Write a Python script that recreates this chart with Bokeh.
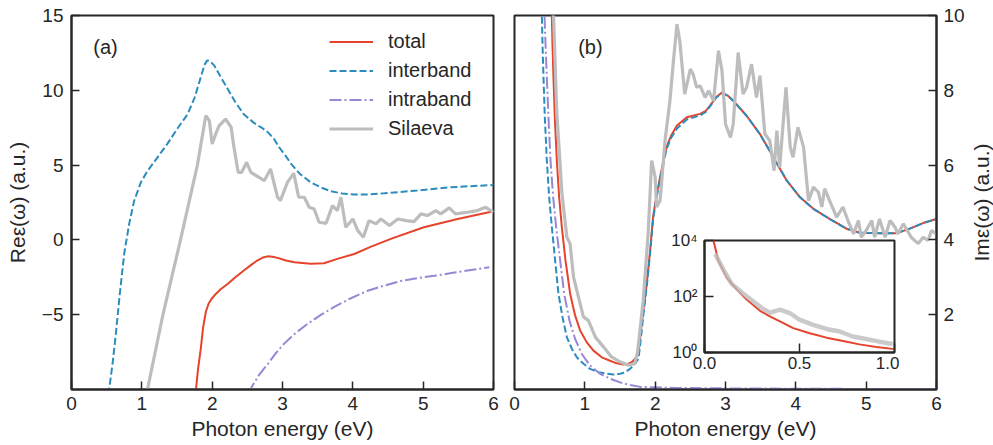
import math
from bokeh.plotting import figure
from bokeh.models import (Range1d, FixedTicker, Legend, LegendItem, Label,
                          PrintfTickFormatter)
from bokeh.embed import file_html
from bokeh.resources import INLINE

FONT = "Liberation Sans"
INK = "#262626"
RED = "#e5432b"
BLUE = "#2b8cbe"
PURPLE = "#9787d6"
GRAY = "#bdbdbd"

# ---------------- panel (a): Re eps ----------------
inter_a_x = [0.52, 0.535, 0.583, 0.63, 0.687, 0.75, 0.82, 0.89, 0.986, 1.08, 1.223, 1.36, 1.5, 1.65,
             1.75, 1.84, 1.89, 1.93, 1.97, 2.03, 2.12, 2.22, 2.33, 2.45, 2.6, 2.72, 2.79, 2.88,
             2.95, 3.04, 3.12, 3.25, 3.40, 3.55, 3.69, 3.85, 4.02, 4.2, 4.45, 4.92, 5.39, 6.0]
inter_a_y = [-11.0, -10.0, -8.3, -6.3, -3.6, -0.9, 1.07, 2.6, 3.85, 4.6, 5.52, 6.4, 7.4, 8.4,
             9.5, 10.9, 11.7, 12.0, 11.95, 11.65, 10.9, 10.1, 9.2, 8.4, 7.8, 7.45, 7.2, 6.75,
             6.2, 5.65, 5.1, 4.4, 3.85, 3.5, 3.25, 3.1, 3.03, 3.04, 3.12, 3.30, 3.52, 3.67]

total_a_x = [1.76, 1.77, 1.80, 1.84, 1.87, 1.91, 1.95, 1.99, 2.03, 2.12, 2.22, 2.33, 2.45, 2.56,
             2.64, 2.72, 2.79, 2.86, 2.93, 3.05, 3.17, 3.40, 3.59, 3.78, 4.02, 4.26, 4.54, 5.01,
             5.49, 6.0]
total_a_y = [-10.5, -10.0, -8.6, -7.2, -5.9, -4.8, -4.25, -3.95, -3.72, -3.3, -2.95, -2.5, -2.05,
             -1.65, -1.38, -1.18, -1.1, -1.12, -1.2, -1.38, -1.5, -1.6, -1.56, -1.27, -0.94,
             -0.45, 0.07, 0.85, 1.4, 1.92]

intra_a_x = [2.53, 2.56, 2.67, 2.79, 2.9, 3.02, 3.18, 3.36, 3.55, 3.73, 3.95, 4.21, 4.45, 4.68,
             4.92, 5.16, 5.4, 5.63, 5.94]
intra_a_y = [-10.3, -9.85, -9.0, -8.3, -7.6, -6.95, -6.25, -5.6, -5.0, -4.5, -3.95, -3.4, -3.05,
             -2.75, -2.55, -2.4, -2.22, -2.05, -1.83]

sil_a_x = [1.06, 1.08, 1.30, 1.55, 1.79, 1.91, 1.96, 2.00, 2.05, 2.10, 2.19, 2.27, 2.31, 2.37, 2.42,
           2.49, 2.55, 2.74, 2.83, 2.93, 2.97, 3.07, 3.16, 3.23, 3.31, 3.38, 3.45, 3.52, 3.62, 3.71,
           3.78, 3.83, 3.90, 4.00, 4.07, 4.15, 4.23, 4.33, 4.40, 4.52, 4.64, 4.76, 4.87, 4.97, 5.06,
           5.18, 5.25, 5.37, 5.46, 5.63, 5.77, 5.89, 6.00]
sil_a_y = [-10.5, -10.0, -5.0, 0.0, 5.0, 8.31, 7.97, 6.41, 7.08, 7.64, 8.08, 7.53, 6.19, 4.52, 4.52,
           5.19, 4.52, 3.96, 4.74, 2.85, 2.63, 3.85, 4.45, 2.85, 2.85, 2.18, 2.07, 1.18, 1.11, 2.29,
           1.96, 2.85, 0.85, 1.40, 0.62, 0.18, 1.29, 1.07, 1.40, 0.96, 1.40, 1.29, 1.22, 1.74, 1.63,
           1.96, 1.74, 2.14, 1.74, 1.85, 1.96, 2.18, 1.85]

# ---------------- panel (b): Im eps ----------------
total_b_x = [0.525, 0.531, 0.540, 0.554, 0.573, 0.602, 0.635, 0.673, 0.725, 0.791, 0.862, 0.933,
             1.028, 1.123, 1.241, 1.359, 1.454, 1.549, 1.62, 1.667, 1.715, 1.762, 1.79, 1.83,
             1.88, 1.93, 1.97, 2.02, 2.07, 2.16, 2.23, 2.31, 2.45, 2.64, 2.72, 2.78, 2.87, 2.95,
             3.03, 3.11, 3.30, 3.49, 3.68, 3.87, 4.06, 4.25, 4.48, 4.72, 4.91, 5.19, 5.43, 5.62,
             5.81, 6.0]
total_b_y = [10.5, 9.99, 9.24, 8.34, 7.28, 6.12, 5.14, 4.34, 3.45, 2.56, 1.98, 1.58,
             1.26, 1.04, 0.86, 0.77, 0.70, 0.67, 0.69, 0.73, 0.82, 0.95, 1.45, 2.1,
             2.83, 3.75, 4.61, 5.2, 5.68, 6.48, 6.8, 7.06, 7.28, 7.37, 7.45, 7.59, 7.82, 7.94,
             7.86, 7.72, 7.32, 6.83, 6.21, 5.59, 5.14, 4.83, 4.56, 4.30, 4.19, 4.18, 4.18, 4.30,
             4.45, 4.56]

inter_b_x = [0.384, 0.389, 0.398, 0.412, 0.431, 0.46, 0.493, 0.531, 0.578, 0.625, 0.682, 0.744,
             0.815, 0.886, 0.981, 1.075, 1.194, 1.312, 1.407, 1.501, 1.572, 1.643, 1.714, 1.762,
             1.79, 1.83, 1.88, 1.93, 1.97, 2.02, 2.07, 2.16, 2.23, 2.31, 2.45, 2.64, 2.72, 2.78,
             2.87, 2.95, 3.03, 3.11, 3.30, 3.49, 3.68, 3.87, 4.06, 4.25, 4.48, 4.72, 4.91, 5.19,
             5.43, 5.62, 5.81, 6.0]
inter_b_y = [10.5, 9.99, 9.24, 8.34, 7.28, 6.12, 5.14, 4.34, 3.45, 2.56, 1.94, 1.40,
             1.09, 0.86, 0.69, 0.55, 0.46, 0.42, 0.40, 0.42, 0.46, 0.55, 0.69, 0.82,
             1.25, 1.95, 2.75, 3.68, 4.55, 5.13, 5.62, 6.42, 6.74, 6.98, 7.22, 7.33, 7.42, 7.57,
             7.81, 7.93, 7.86, 7.72, 7.32, 6.83, 6.21, 5.59, 5.14, 4.83, 4.56, 4.30, 4.19, 4.18,
             4.18, 4.30, 4.45, 4.56]

intra_b_x = [0.423, 0.427, 0.441, 0.46, 0.483, 0.512, 0.55, 0.592, 0.649, 0.706, 0.782, 0.862,
             0.957, 1.075, 1.217, 1.359, 1.501, 1.643, 1.79, 2.3, 3.0, 4.0, 5.0, 6.0]
intra_b_y = [10.5, 9.99, 9.24, 8.34, 7.28, 6.12, 5.14, 4.34, 3.45, 2.56, 1.84, 1.35,
             0.95, 0.64, 0.42, 0.29, 0.19, 0.12, 0.07, 0.04, 0.03, 0.02, 0.015, 0.01]

sil_b_x = [0.55, 0.555, 0.60, 0.675, 0.745, 0.79, 0.84, 0.91, 0.98, 1.05, 1.15, 1.265, 1.38, 1.50,
           1.62, 1.71, 1.75, 1.83, 1.90, 1.95, 2.00, 2.02, 2.07, 2.14, 2.21, 2.26, 2.31, 2.35, 2.42,
           2.50, 2.54, 2.59, 2.64, 2.71, 2.76, 2.83, 2.90, 2.95, 3.00, 3.07, 3.11, 3.18, 3.25, 3.30,
           3.37, 3.44, 3.49, 3.56, 3.63, 3.69, 3.73, 3.77, 3.86, 3.92, 3.96, 4.03, 4.11, 4.18, 4.25,
           4.32, 4.37, 4.41, 4.48, 4.58, 4.67, 4.74, 4.82, 4.89, 4.93, 5.00, 5.08, 5.12, 5.19, 5.27,
           5.34, 5.41, 5.45, 5.53, 5.64, 5.74, 5.81, 5.88, 5.93, 6.00]
sil_b_y = [10.5, 10.0, 7.45, 5.23, 4.07, 3.90, 3.00, 2.47, 1.94, 1.85, 1.40, 1.14, 0.87, 0.74,
           0.65, 0.69, 1.0, 2.38, 4.16, 6.12, 5.68, 4.88, 5.05, 6.65, 7.72, 8.79, 9.77, 9.32, 7.90,
           8.57, 8.43, 8.08, 8.12, 7.81, 7.99, 7.72, 9.06, 8.52, 7.10, 6.74, 7.10, 9.01, 7.90, 8.08,
           8.70, 7.81, 8.39, 6.83, 6.65, 5.85, 6.92, 5.94, 8.08, 6.48, 6.21, 7.01, 6.48, 5.05, 5.41,
           5.28, 4.88, 5.37, 5.05, 4.61, 4.88, 4.52, 4.16, 4.52, 4.07, 4.25, 4.52, 4.07, 4.56, 4.07,
           4.52, 4.34, 4.16, 4.43, 4.07, 3.90, 4.07, 3.99, 4.25, 4.16]

# ---------------- inset (log scale) ----------------
inset_total_x = [0.04, 0.047, 0.073, 0.117, 0.170, 0.222, 0.292, 0.344, 0.397, 0.467, 0.554, 0.642,
                 0.729, 0.816, 0.904, 1.0]
inset_total_y = [15000, 10000, 1905, 468, 178, 77.6, 30.9, 19.5, 12.9, 7.41, 4.90, 3.39,
                 2.57, 1.95, 1.58, 1.32]
inset_sil_x = [0.056, 0.10, 0.143, 0.205, 0.257, 0.309, 0.344, 0.397, 0.449, 0.50, 0.572, 0.642,
               0.712, 0.78, 0.85, 0.92, 0.99]
inset_sil_y = [3311, 891, 282, 126, 66, 35.5, 26.3, 33.9, 25.7, 14.8, 9.77, 6.92,
               5.62, 3.72, 3.02, 2.45, 2.0]

x_ticks = [0, 1, 2, 3, 4, 5, 6]
ya_ticks = [-5, 0, 5, 10, 15]
yb_ticks = [2, 4, 6, 8, 10]
inset_x_ticks = [0, 0.5, 1.0]
inset_y_ticks = [1, 100, 10000]
inset_y_labels = {1: "10⁰", 100: "10²", 10000: "10⁴"}


def style(p, tick=19, lab=21, tick_len=8):
    for ax in p.axis:
        ax.axis_line_width = 2
        ax.axis_line_color = INK
        ax.major_tick_in = tick_len
        ax.major_tick_out = 0
        ax.major_tick_line_width = 1.5
        ax.major_tick_line_color = INK
        ax.minor_tick_line_color = None
        ax.major_label_text_font = FONT
        ax.major_label_text_font_size = f"{tick}px"
        ax.major_label_text_color = INK
        ax.axis_label_text_font = FONT
        ax.axis_label_text_font_size = f"{lab}px"
        ax.axis_label_text_font_style = "normal"
        ax.axis_label_text_color = INK
    p.outline_line_color = INK
    p.outline_line_width = 2
    p.outline_line_alpha = 1
    p.grid.visible = False
    p.background_fill_color = "white"


# ---------------- figure (a) ----------------
p1 = figure(frame_width=422, frame_height=374, min_border_left=71, min_border_right=10,
            min_border_top=15, min_border_bottom=40,
            x_range=Range1d(0, 6), y_range=Range1d(-10, 15),
            output_backend="svg", toolbar_location=None)
style(p1)
p1.xaxis.ticker = FixedTicker(ticks=x_ticks)
p1.yaxis.ticker = FixedTicker(ticks=ya_ticks)
p1.yaxis.major_label_overrides = {-5: "−5"}
p1.xaxis.axis_label = "Photon energy (eV)"
p1.yaxis.axis_label = "Reε(ω) (a.u.)"
p1.xaxis.major_label_standoff = 7
p1.xaxis.axis_label_standoff = 4
p1.yaxis.major_label_standoff = 8
p1.yaxis.axis_label_standoff = 10

r_tot = p1.line(total_a_x, total_a_y, line_color=RED, line_width=2)
r_int = p1.line(inter_a_x, inter_a_y, line_color=BLUE, line_width=2, line_dash="7 3")
r_intra = p1.line(intra_a_x, intra_a_y, line_color=PURPLE, line_width=2, line_dash="12 3 2 3")
r_sil = p1.line(sil_a_x, sil_a_y, line_color=GRAY, line_width=3.2)

legend = Legend(items=[LegendItem(label="total", renderers=[r_tot]),
                       LegendItem(label="interband", renderers=[r_int]),
                       LegendItem(label="intraband", renderers=[r_intra]),
                       LegendItem(label="Silaeva", renderers=[r_sil])],
                location=(258, 246), border_line_color=None, background_fill_alpha=0,
                label_text_font=FONT, label_text_font_size="20px", label_text_color=INK,
                glyph_width=44, glyph_height=29, label_height=29, spacing=0, padding=0,
                margin=0, label_standoff=15)
p1.add_layout(legend)
p1.add_layout(Label(x=0.31, y=12.87, text="(a)", text_font=FONT, text_font_size="20px",
                    text_color=INK, text_baseline="middle"))

# ---------------- figure (b) ----------------
p2 = figure(frame_width=422, frame_height=374, min_border_left=11, min_border_right=56,
            min_border_top=15, min_border_bottom=40,
            x_range=Range1d(0, 6), y_range=Range1d(0, 10), y_axis_location="right",
            output_backend="svg", toolbar_location=None)
style(p2)
p2.xaxis.ticker = FixedTicker(ticks=x_ticks)
p2.yaxis.ticker = FixedTicker(ticks=yb_ticks)
p2.xaxis.axis_label = "Photon energy (eV)"
p2.xaxis.major_label_standoff = 7
p2.xaxis.axis_label_standoff = 4
p2.yaxis.major_label_standoff = 7

p2.line(total_b_x, total_b_y, line_color=RED, line_width=2)
p2.line(inter_b_x, inter_b_y, line_color=BLUE, line_width=2, line_dash="7 3")
p2.line(intra_b_x, intra_b_y, line_color=PURPLE, line_width=2, line_dash="12 3 2 3")
p2.line(sil_b_x, sil_b_y, line_color=GRAY, line_width=3.2)
p2.add_layout(Label(x=0.905, y=9.16, text="(b)", text_font=FONT, text_font_size="20px",
                    text_color=INK, text_baseline="middle"))

# right-hand axis title (reads bottom-to-top, as in the reference)
p4 = figure(width=26, height=300, x_range=Range1d(0, 1), y_range=Range1d(0, 1),
            min_border=0, output_backend="svg", toolbar_location=None)
p4.axis.visible = False
p4.grid.visible = False
p4.outline_line_color = None
p4.background_fill_color = None
p4.border_fill_color = None
p4.add_layout(Label(x=0.5, y=0.5, text="Imε(ω) (a.u.)", angle=math.pi / 2,
                    text_font=FONT, text_font_size="21px", text_color=INK,
                    text_align="center", text_baseline="middle"))

# ---------------- inset ----------------
p3 = figure(frame_width=190, frame_height=112, min_border_left=45, min_border_right=5,
            min_border_top=12, min_border_bottom=30,
            x_range=Range1d(0, 1), y_range=Range1d(1, 10000), y_axis_type="log",
            output_backend="svg", toolbar_location=None)
style(p3, tick=17, tick_len=9)
p3.border_fill_color = None
p3.xaxis.ticker = FixedTicker(ticks=inset_x_ticks)
p3.xaxis.formatter = PrintfTickFormatter(format="%.1f")
p3.yaxis.ticker = FixedTicker(ticks=inset_y_ticks)
p3.yaxis.major_label_overrides = inset_y_labels
p3.xaxis.major_label_standoff = 4
p3.yaxis.major_label_standoff = 7
p3.line(inset_total_x, inset_total_y, line_color=RED, line_width=2)
p3.line(inset_sil_x, inset_sil_y, line_color=GRAY, line_width=4.5, line_alpha=0.8)

p1.styles = {"position": "absolute", "left": "0px", "top": "0px"}
p2.styles = {"position": "absolute", "left": "503px", "top": "0px"}
p3.styles = {"position": "absolute", "left": "659px", "top": "228px"}
p4.styles = {"position": "absolute", "left": "968px", "top": "52px"}

open("out.html", "w").write(file_html([p1, p2, p3, p4], INLINE))
